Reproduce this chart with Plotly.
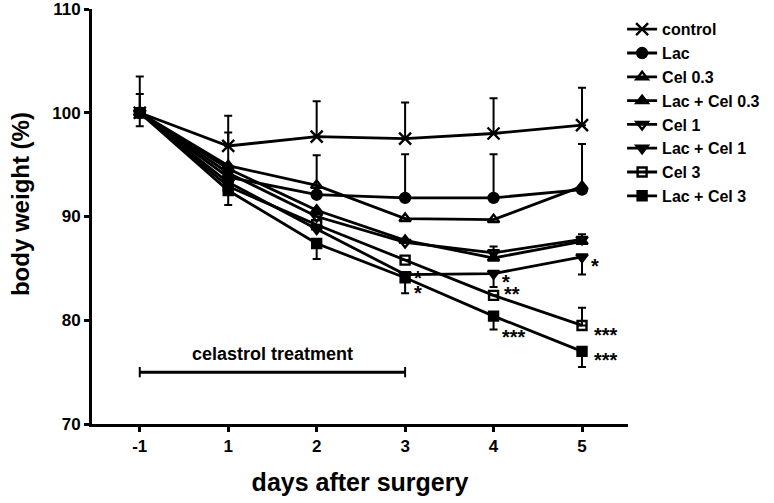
import plotly.graph_objects as go

# data (body weight, % of day -1)
days = ["-1", "1", "2", "3", "4", "5"]
groups = ["control", "Lac", "Cel 0.3", "Lac + Cel 0.3", "Cel 1", "Lac + Cel 1", "Cel 3", "Lac + Cel 3"]

control = [100, 96.8, 97.7, 97.5, 98.0, 98.8]
lac = [100, 93.8, 92.1, 91.8, 91.8, 92.6]
cel_03 = [100, 94.9, 93.0, 89.8, 89.7, 92.9]
lac_cel_03 = [100, 94.6, 90.6, 87.7, 86.0, 87.6]
cel_1 = [100, 94.2, 90.0, 87.5, 86.5, 87.8]
lac_cel_1 = [100, 93.3, 88.8, 84.4, 84.5, 86.1]
cel_3 = [100, 92.9, 89.2, 85.8, 82.4, 79.5]
lac_cel_3 = [100, 92.5, 87.4, 84.1, 80.4, 77.0]

# one-sided error bars (up / down)
control_up = [3.5, 2.9, 3.4, 3.5, 3.4, 3.6]
lac_up = [1.8, 4.3, 3.8, 4.2, 4.2, 4.4]
cel_1_up = [0, 0, 0, 0, 0.6, 0.5]
lac_cel_1_down = [0, 0, 0, 0, 1.3, 1.7]
cel_3_up = [0, 0, 0, 0, 0, 1.7]
lac_cel_3_down = [1.3, 1.4, 1.5, 1.5, 1.3, 1.5]

# significance marks
lac_cel_1_sig = ["", "", "", "*", "*", "*"]
cel_3_sig = ["", "", "", "", "**", "***"]
lac_cel_3_sig = ["", "", "", "*", "***", "***"]

treatment_days = ["-1", "3"]
treatment_level = 75

zeros = [0] * len(days)
series = [
    (groups[0], control, control_up, zeros, "x-thin-open", 12),
    (groups[1], lac, lac_up, zeros, "circle", 10),
    (groups[2], cel_03, zeros, zeros, "triangle-up-open", 10),
    (groups[3], lac_cel_03, zeros, zeros, "triangle-up", 10),
    (groups[4], cel_1, cel_1_up, zeros, "triangle-down-open", 10),
    (groups[5], lac_cel_1, zeros, lac_cel_1_down, "triangle-down", 10),
    (groups[6], cel_3, cel_3_up, zeros, "square-open", 9),
    (groups[7], lac_cel_3, zeros, lac_cel_3_down, "square", 9),
]

FONT = "Liberation Sans, Arial, sans-serif"

fig = go.Figure()
for name, vals, up, down, symbol, size in series:
    fig.add_trace(
        go.Scatter(
            x=days,
            y=vals,
            name=name,
            mode="lines+markers",
            line=dict(color="black", width=2.8),
            marker=dict(symbol=symbol, size=size, color="black",
                        line=dict(color="black", width=2.4)),
            error_y=dict(type="data", symmetric=False, array=up, arrayminus=down,
                         color="black", thickness=2, width=4),
        )
    )

# stars: offsets (px) next to each marker
star_offsets = {
    ("Lac + Cel 1", "3"): (7, -3),
    ("Lac + Cel 1", "4"): (6, -8),
    ("Lac + Cel 1", "5"): (7, -9),
    ("Cel 3", "4"): (8, 1),
    ("Cel 3", "5"): (10, -10),
    ("Lac + Cel 3", "3"): (7, -15),
    ("Lac + Cel 3", "4"): (6, -21),
    ("Lac + Cel 3", "5"): (10, -9),
}
for name, vals, sigs in [("Lac + Cel 1", lac_cel_1, lac_cel_1_sig),
                         ("Cel 3", cel_3, cel_3_sig),
                         ("Lac + Cel 3", lac_cel_3, lac_cel_3_sig)]:
    for d, v, s in zip(days, vals, sigs):
        if not s:
            continue
        dx, dy = star_offsets[(name, d)]
        fig.add_annotation(x=d, y=v, text=s, showarrow=False, xanchor="left",
                           yanchor="middle", xshift=dx, yshift=dy,
                           font=dict(size=20, family=FONT, weight="bold", color="black"))

# celastrol treatment bracket
x0 = days.index(treatment_days[0])
x1 = days.index(treatment_days[1])
fig.add_shape(type="line", x0=x0, x1=x1, y0=treatment_level, y1=treatment_level,
              line=dict(color="black", width=3))
for xe in (x0, x1):
    fig.add_shape(type="line", x0=xe, x1=xe, y0=treatment_level - 0.5,
                  y1=treatment_level + 0.5, line=dict(color="black", width=2))
fig.add_annotation(x=(x0 + x1) / 2, y=treatment_level, text="celastrol treatment",
                   showarrow=False, yanchor="bottom", yshift=6,
                   font=dict(size=18, family=FONT, weight="bold", color="black"))

# y title
fig.add_annotation(xref="paper", yref="paper", x=0, y=0.53, xshift=-72,
                   xanchor="center", yanchor="middle",
                   text="body weight (%)", textangle=-90, showarrow=False,
                   font=dict(size=24, family=FONT, weight="bold", color="black"))

fig.update_layout(
    width=774,
    height=503,
    margin=dict(l=92, r=142, t=9, b=79),
    paper_bgcolor="white",
    plot_bgcolor="white",
    font=dict(family=FONT, color="black", weight="bold"),
    legend=dict(x=0.989, y=0.992, xanchor="left", yanchor="top",
                font=dict(size=16, family=FONT, weight="bold"),
                itemwidth=30, bgcolor="rgba(0,0,0,0)"),
)
fig.update_xaxes(
    type="category",
    categoryorder="array",
    categoryarray=days,
    range=[-0.54, 5.52],
    automargin=False,
    showline=True, linecolor="black", linewidth=3,
    ticks="outside", ticklen=5, tickwidth=3, tickcolor="black",
    tickfont=dict(size=17, family=FONT, weight="bold"),
    showgrid=False, zeroline=False,
    title=dict(text="days after surgery", standoff=19,
               font=dict(size=25, family=FONT, weight="bold")),
)
fig.update_yaxes(
    range=[70, 110],
    tickvals=[70, 80, 90, 100, 110],
    automargin=False,
    showline=True, linecolor="black", linewidth=3,
    ticks="outside", ticklen=5, tickwidth=3, tickcolor="black",
    tickfont=dict(size=17, family=FONT, weight="bold"),
    ticklabeloverflow="allow",
    showgrid=False, zeroline=False,
)

# the page body has a default 8px margin; drop it so the figure sits at 0,0
fig.write_html("out.html", config={"displayModeBar": False},
               post_script="document.body.style.margin = '0px';")
